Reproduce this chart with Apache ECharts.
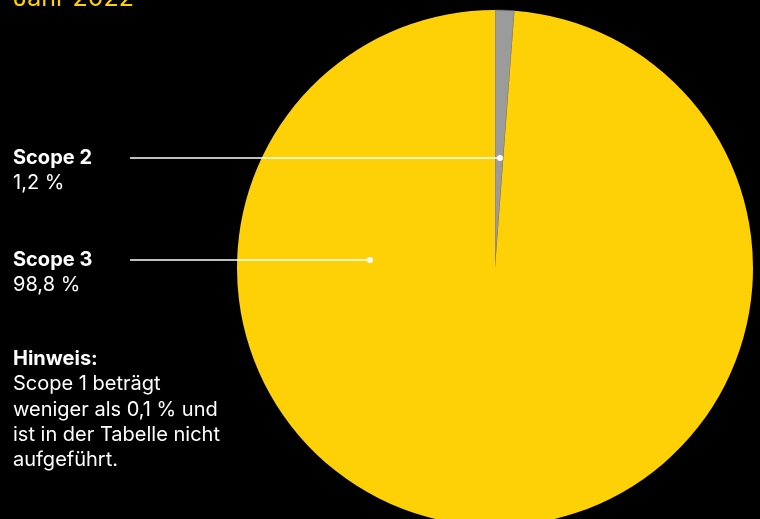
<!DOCTYPE html>
<html>
<head>
<meta charset="utf-8">
<script src="https://cdn.jsdelivr.net/npm/echarts@6/dist/echarts.min.js"></script>
<style>
html,body{margin:0;padding:0;background:#000;}
#c{width:760px;height:519px;}
</style>
</head>
<body>
<div id="c"></div>
<script>
const categories = ['Scope 2', 'Scope 3'];
const values = [1.2, 98.8];
const valueLabels = ['1,2 %', '98,8 %'];
const colors = ['#9b9b9b', '#fed106'];
const titleText = 'Jahr 2022';
const noteTitle = 'Hinweis:';
const noteLines = ['Scope 1 beträgt', 'weniger als 0,1 % und', 'ist in der Tabelle nicht', 'aufgeführt.'];

const FONT = 'Inter, "Noto Sans", sans-serif';
const FS = 20;
const center = [495, 268];
const radius = 258;
const labelTop = [145, 247];
const lineY = [158, 260];
const lineStartX = 130;
const anchorsPolar = [[2.6, 110], [-82.5, 126]];
function anchorPoint(i) {
  const a = anchorsPolar[i][0] * Math.PI / 180, r = anchorsPolar[i][1];
  return [center[0] + r * Math.sin(a), center[1] - r * Math.cos(a)];
}

const chart = echarts.init(document.getElementById('c'), null, {renderer: 'canvas'});
const graphics = [
  {type: 'text', left: 13, top: -14, silent: true,
   style: {text: titleText, fill: '#fed106', font: '400 25px ' + FONT}},
  {type: 'text', left: 13, top: 349, silent: true,
   style: {text: '{b|' + noteTitle + '}\n' + noteLines.map(l => '{r|' + l + '}').join('\n'),
     rich: {b: {fontFamily: FONT, fontWeight: 700, fontSize: FS, lineHeight: 25.3, fill: '#fff', color: '#fff'},
            r: {fontFamily: FONT, fontWeight: 400, fontSize: FS, lineHeight: 25.3, fill: '#fff', color: '#fff'}}}}
];
categories.forEach((c, i) => {
  const p = anchorPoint(i);
  graphics.push({type: 'line', z: 100, silent: true,
    shape: {x1: lineStartX, y1: lineY[i], x2: p[0], y2: lineY[i]},
    style: {stroke: '#fff', lineWidth: 1.3}});
  graphics.push({type: 'circle', z: 101, silent: true, shape: {cx: p[0], cy: lineY[i], r: 3}, style: {fill: '#fff'}});
});

chart.setOption({
  backgroundColor: '#000',
  animation: false,
  graphic: graphics,
  series: [{
    type: 'pie',
    center: center,
    radius: radius,
    startAngle: 90,
    clockwise: true,
    avoidLabelOverlap: false,
    data: categories.map((c, i) => ({name: c, value: values[i],
      itemStyle: {color: colors[i], borderColor: i === 0 ? '#6f6f6f' : 'transparent', borderWidth: i === 0 ? 0.6 : 0}})),
    label: {
      show: true,
      formatter: p => '{n|' + p.name + '}\n{v|' + valueLabels[p.dataIndex] + '}',
      rich: {
        n: {fontFamily: FONT, fontWeight: 700, fontSize: FS, lineHeight: 25, color: '#fff'},
        v: {fontFamily: FONT, fontWeight: 400, fontSize: FS, lineHeight: 25, color: '#fff'}
      }
    },
    labelLine: {show: false},
    labelLayout: function (params) {
      return {x: 13, y: labelTop[params.dataIndex], align: 'left', verticalAlign: 'top'};
    },
    emphasis: {disabled: true}
  }]
});
</script>
</body>
</html>
